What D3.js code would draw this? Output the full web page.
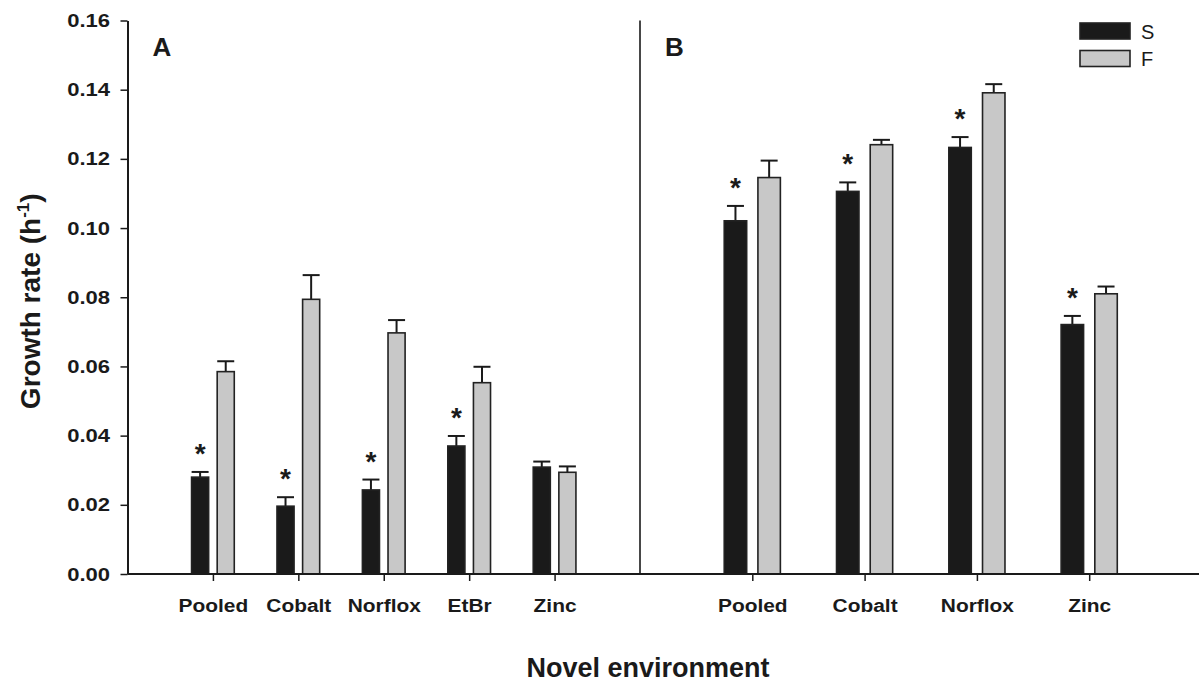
<!DOCTYPE html>
<html>
<head>
<meta charset="utf-8">
<script src="https://cdn.jsdelivr.net/npm/d3@7"></script>
<style>
  html, body { margin: 0; padding: 0; background: #fff; }
  svg { display: block; font-family: "Liberation Sans", Arial, sans-serif; }
</style>
</head>
<body>
<svg id="chart" width="1199" height="686"></svg>
<script>
// Growth rate of S and F lines in each novel environment (mean and upper SE)
const panelACategories = ["Pooled", "Cobalt", "Norflox", "EtBr", "Zinc"];
const panelAS      = [0.0280, 0.0196, 0.0243, 0.0370, 0.0309];
const panelASErr   = [0.0015, 0.0026, 0.0030, 0.0029, 0.0016];
const panelAF      = [0.0585, 0.0794, 0.0697, 0.0553, 0.0294];
const panelAFErr   = [0.0030, 0.0070, 0.0037, 0.0046, 0.0017];
const panelASignif = [true, true, true, true, false];

const panelBCategories = ["Pooled", "Cobalt", "Norflox", "Zinc"];
const panelBS      = [0.1021, 0.1106, 0.1233, 0.0721];
const panelBSErr   = [0.0043, 0.0026, 0.0030, 0.0025];
const panelBF      = [0.1146, 0.1241, 0.1391, 0.0810];
const panelBFErr   = [0.0049, 0.0014, 0.0025, 0.0021];
const panelBSignif = [true, true, true, true];

const yTicks = [0, 0.02, 0.04, 0.06, 0.08, 0.10, 0.12, 0.14, 0.16];
const seriesNames = ["S", "F"];

const svg = d3.select("#chart");
const ink = "#1a1a1a";
const colS = "#1a1a1a";
const colF = "#c8c8c8";

const plotLeft = 127.5, plotDivider = 640, plotRight = 1201.5;
const y = d3.scaleLinear().domain([0, 0.16]).range([574, 20.5]);
const xA = d3.scaleLinear().domain([0, 6]).range([plotLeft, plotDivider]);
const xB = d3.scaleLinear().domain([0, 5]).range([plotDivider, plotRight]);

const barHalf = 0.1, barOffset = 0.15, capHalf = 8.5;

function drawPanel(x, cats, sVals, sErr, fVals, fErr, signif, label) {
  const g = svg.append("g");
  const rows = cats.map((c, i) => ({
    pos: i + 1,
    bars: [
      { name: "S", v: sVals[i], e: sErr[i], off: -barOffset, fill: colS },
      { name: "F", v: fVals[i], e: fErr[i], off: barOffset, fill: colF }
    ],
    sig: signif[i]
  }));

  const grp = g.selectAll("g.cat").data(rows).enter().append("g").attr("class", "cat");

  // upper error bars
  grp.selectAll("g.err").data(d => d.bars.map(b => Object.assign({ pos: d.pos }, b)))
    .enter().append("g").attr("class", "err")
    .each(function (b) {
      const gx = x(b.pos + b.off);
      const sel = d3.select(this);
      sel.append("line").attr("x1", gx).attr("x2", gx)
        .attr("y1", y(b.v)).attr("y2", y(b.v + b.e))
        .attr("stroke", ink).attr("stroke-width", 2);
      sel.append("line").attr("x1", gx - capHalf).attr("x2", gx + capHalf)
        .attr("y1", y(b.v + b.e)).attr("y2", y(b.v + b.e))
        .attr("stroke", ink).attr("stroke-width", 2);
    });

  // bars
  grp.selectAll("rect").data(d => d.bars.map(b => Object.assign({ pos: d.pos }, b)))
    .enter().append("rect")
    .attr("x", b => x(b.pos + b.off - barHalf))
    .attr("width", b => x(b.pos + b.off + barHalf) - x(b.pos + b.off - barHalf))
    .attr("y", b => y(b.v))
    .attr("height", b => y(0) - y(b.v))
    .attr("fill", b => b.fill)
    .attr("stroke", "#222").attr("stroke-width", 1.6);

  // significance stars above the S bars
  grp.filter(d => d.sig).append("text")
    .attr("x", d => x(d.pos - barOffset))
    .attr("y", d => y(d.bars[0].v + d.bars[0].e) - 9)
    .attr("text-anchor", "middle")
    .attr("font-size", 28).attr("font-weight", "bold").attr("fill", ink)
    .text("*");

  // category axis
  const ax = g.append("g").attr("transform", `translate(0,${y(0)})`)
    .call(d3.axisBottom(x).tickValues(cats.map((c, i) => i + 1))
      .tickFormat(v => cats[v - 1]).tickSize(7).tickSizeOuter(0));
  ax.select(".domain").remove();
  ax.selectAll(".tick line").attr("stroke", ink).attr("stroke-width", 1.5);
  ax.selectAll(".tick text")
    .attr("y", 38).attr("dy", null)
    .attr("font-size", 19).attr("font-weight", "bold")
    .attr("font-family", "Liberation Sans, Arial, sans-serif")
    .attr("fill", ink)
    .attr("transform", "scale(1.1,1)");

  g.append("text")
    .attr("x", x(0) + 25).attr("y", 56)
    .attr("font-size", 26).attr("font-weight", "bold").attr("fill", ink)
    .text(label);
}

drawPanel(xA, panelACategories, panelAS, panelASErr, panelAF, panelAFErr, panelASignif, "A");
drawPanel(xB, panelBCategories, panelBS, panelBSErr, panelBF, panelBFErr, panelBSignif, "B");

// value axis
const yAx = svg.append("g").attr("transform", `translate(${plotLeft},0)`)
  .call(d3.axisLeft(y).tickValues(yTicks).tickFormat(d3.format(".2f")).tickSize(7).tickSizeOuter(0));
yAx.select(".domain").attr("stroke", ink).attr("stroke-width", 2);
yAx.selectAll(".tick line").attr("stroke", ink).attr("stroke-width", 1.5);
yAx.selectAll(".tick text")
  .attr("x", -15).attr("font-size", 19).attr("font-weight", "bold")
  .attr("font-family", "Liberation Sans, Arial, sans-serif")
  .attr("fill", ink).attr("transform", "scale(1.16,1)");

// baseline and panel divider
svg.append("line").attr("x1", plotLeft).attr("x2", plotRight)
  .attr("y1", y(0)).attr("y2", y(0)).attr("stroke", ink).attr("stroke-width", 2);
svg.append("line").attr("x1", plotDivider).attr("x2", plotDivider)
  .attr("y1", y(0.16)).attr("y2", y(0)).attr("stroke", ink).attr("stroke-width", 1.6);

// axis titles
const yTitle = svg.append("text")
  .attr("transform", `translate(40,${(y(0) + y(0.16)) / 2 + 4}) rotate(-90)`)
  .attr("text-anchor", "middle")
  .attr("font-size", 28).attr("font-weight", "bold").attr("fill", ink);
yTitle.append("tspan").text("Growth rate (h");
yTitle.append("tspan").attr("dy", -11).attr("font-size", 17).text("-1");
yTitle.append("tspan").attr("dy", 11).text(")");

svg.append("text")
  .attr("x", 648).attr("y", 677)
  .attr("text-anchor", "middle")
  .attr("font-size", 27).attr("font-weight", "bold").attr("fill", ink)
  .text("Novel environment");

// legend
const legend = svg.append("g").attr("transform", "translate(1080,23)");
const legendItems = legend.selectAll("g").data(seriesNames).enter().append("g")
  .attr("transform", (d, i) => `translate(0,${i * 27.5})`);
legendItems.append("rect")
  .attr("width", 50).attr("height", 16)
  .attr("fill", (d, i) => i === 0 ? colS : colF)
  .attr("stroke", "#222").attr("stroke-width", 1.6);
legendItems.append("text")
  .attr("x", 61).attr("y", 15.5)
  .attr("font-size", 20).attr("fill", ink)
  .text(d => d);
</script>
</body>
</html>
